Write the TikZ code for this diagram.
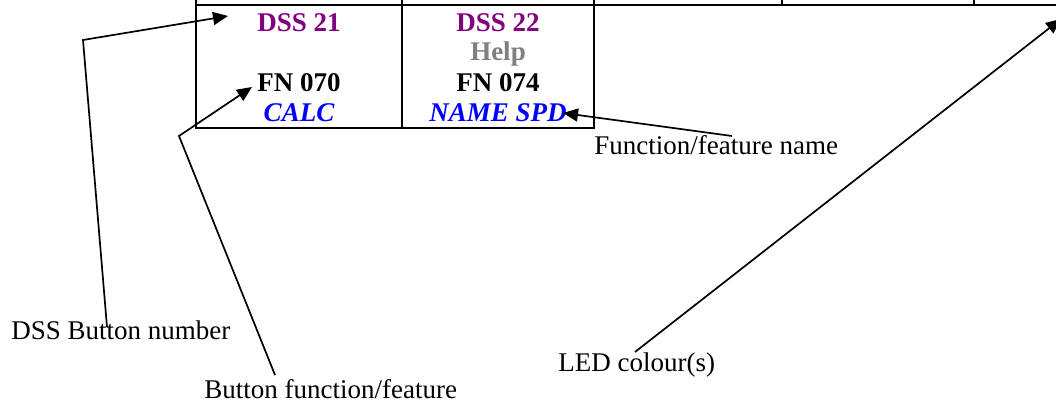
\documentclass[tikz,border=0pt]{standalone}
\usepackage{fontspec}
\setmainfont{Liberation Serif}
\usetikzlibrary{arrows.meta}
\definecolor{dsspurple}{RGB}{128,0,128}
\definecolor{helpgray}{RGB}{128,128,128}
\definecolor{fnblue}{RGB}{0,0,255}
\tikzset{
  gridline/.style={line width=1.2pt, black},
  celltxt/.style={anchor=base, inner sep=0pt, font=\fontsize{13.5}{16}\selectfont\bfseries},
  lbl/.style={anchor=base west, inner sep=0pt, font=\fontsize{13.5}{16}\selectfont},
  arr/.style={line width=0.85pt, black, -{Triangle[length=7.5pt,width=6.5pt]}}
}
\begin{document}
\begin{tikzpicture}[x=0.5pt,y=-0.5pt]
\useasboundingbox (0,0) rectangle (1056,405);
% grid / table
\draw[gridline] (196,-3) -- (196,128) -- (594,128) -- (594,-3);
\draw[gridline] (402,-3) -- (402,128);
\draw[gridline] (782,-3) -- (782,5);
\draw[gridline] (974,-3) -- (974,5);
\draw[gridline] (196,5) -- (1065,5);
% cell texts
\node[celltxt, text=dsspurple] (dss21) at (299,32) {DSS 21};
\node[celltxt, text=black] (fn070) at (299,92) {FN 070};
\node[celltxt, text=fnblue, font=\fontsize{13.5}{16}\selectfont\bfseries\itshape] (calc) at (299,122) {CALC};
\node[celltxt, text=dsspurple] (dss22) at (498,32) {DSS 22};
\node[celltxt, text=helpgray] (help) at (498,61) {Help};
\node[celltxt, text=black] (fn074) at (498,92) {FN 074};
\node[celltxt, text=fnblue, font=\fontsize{13.5}{16}\selectfont\bfseries\itshape] (namespd) at (498,122) {NAME SPD};
% labels
\node[lbl] (lbDSS) at (11,340) {DSS Button number};
\node[lbl] (lbBtn) at (204,399) {Button function/feature};
\node[lbl] (lbFn) at (594,155) {Function/feature name};
\node[lbl] (lbLed) at (558,372) {LED colour(s)};
% connector points
\coordinate (dssFoot) at (107,327);
\coordinate (dssBend) at (83,40);
\coordinate (dssTip) at (228,16);
\coordinate (btnFoot) at (275,375);
\coordinate (btnBend) at (179,136);
\coordinate (btnTip) at (252,87);
\coordinate (fnTail) at (732,136);
\coordinate (fnTip) at (563,113);
\coordinate (ledTail) at (635,352);
\coordinate (ledTip) at (1061,19);
% connectors
\draw[arr] (dssFoot) -- (dssBend) -- (dssTip);
\draw[arr] (btnFoot) -- (btnBend) -- (btnTip);
\draw[arr] (fnTail) -- (fnTip);
\draw[arr] (ledTail) -- (ledTip);
\end{tikzpicture}
\end{document}
